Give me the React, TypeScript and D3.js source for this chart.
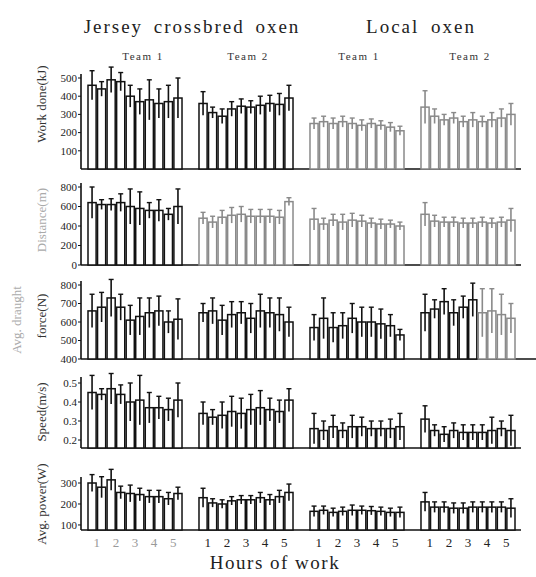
import React, { useEffect, useRef } from 'react'
import * as d3 from 'd3'

// titles and categories
const breeds = ['Jersey crossbred oxen', 'Local oxen']
const teams = ['Team 1', 'Team 2', 'Team 1', 'Team 2']
const hours = ['1', '2', '3', '4', '5']

// each row: 4 panels (Jersey T1, Jersey T2, Local T1, Local T2), 10 bars each
const workDone = [
  [460, 440, 490, 480, 400, 370, 380, 360, 370, 390],
  [360, 310, 290, 330, 345, 340, 350, 360, 355, 390],
  [250, 260, 250, 260, 250, 240, 250, 240, 230, 210],
  [340, 290, 270, 280, 260, 270, 260, 270, 280, 300],
]
const workDoneErr = [
  [80, 40, 70, 50, 60, 70, 110, 80, 90, 110],
  [65, 30, 40, 40, 40, 35, 50, 45, 60, 70],
  [30, 30, 30, 30, 30, 30, 25, 25, 25, 25],
  [90, 40, 30, 30, 30, 40, 30, 40, 50, 60],
]
const distance = [
  [640, 620, 620, 640, 600, 580, 560, 560, 520, 600],
  [480, 440, 490, 510, 520, 500, 500, 500, 490, 650],
  [470, 420, 460, 440, 460, 450, 430, 420, 420, 400],
  [520, 450, 440, 440, 430, 430, 440, 430, 440, 460],
]
const distanceErr = [
  [160, 50, 60, 90, 180, 170, 80, 110, 60, 180],
  [60, 60, 70, 80, 80, 70, 70, 70, 70, 40],
  [110, 60, 60, 80, 70, 60, 50, 50, 40, 40],
  [120, 60, 50, 50, 50, 50, 50, 50, 50, 120],
]
const force = [
  [660, 680, 730, 680, 610, 630, 650, 660, 600, 615],
  [650, 660, 610, 640, 650, 620, 660, 650, 640, 600],
  [570, 620, 570, 580, 620, 600, 600, 590, 580, 530],
  [650, 670, 710, 650, 680, 720, 650, 660, 640, 620],
]
const forceErr = [
  [90, 80, 100, 70, 80, 100, 80, 80, 60, 110],
  [50, 70, 80, 70, 60, 80, 90, 80, 90, 80],
  [70, 110, 80, 70, 80, 80, 80, 80, 60, 30],
  [100, 50, 70, 70, 60, 90, 130, 120, 110, 80],
]
const speed = [
  [0.45, 0.44, 0.47, 0.44, 0.40, 0.41, 0.37, 0.37, 0.36, 0.41],
  [0.34, 0.32, 0.33, 0.35, 0.34, 0.36, 0.37, 0.36, 0.35, 0.41],
  [0.26, 0.25, 0.27, 0.25, 0.27, 0.27, 0.26, 0.26, 0.26, 0.27],
  [0.31, 0.25, 0.23, 0.25, 0.24, 0.24, 0.24, 0.25, 0.26, 0.25],
]
const speedErr = [
  [0.09, 0.03, 0.08, 0.05, 0.10, 0.13, 0.08, 0.06, 0.06, 0.09],
  [0.06, 0.04, 0.07, 0.08, 0.08, 0.08, 0.09, 0.06, 0.06, 0.06],
  [0.08, 0.05, 0.06, 0.04, 0.06, 0.05, 0.04, 0.04, 0.05, 0.07],
  [0.07, 0.03, 0.04, 0.04, 0.04, 0.04, 0.04, 0.07, 0.04, 0.08],
]
const power = [
  [300, 280, 315, 255, 250, 245, 235, 235, 225, 250],
  [230, 205, 200, 215, 220, 220, 230, 220, 235, 255],
  [165, 170, 160, 165, 170, 170, 168, 165, 160, 160],
  [210, 185, 185, 180, 180, 185, 185, 185, 185, 180],
]
const powerErr = [
  [40, 50, 50, 30, 40, 30, 30, 30, 30, 30],
  [45, 20, 20, 20, 20, 20, 25, 25, 30, 40],
  [25, 20, 20, 20, 25, 20, 20, 20, 20, 25],
  [45, 25, 25, 25, 25, 25, 25, 25, 25, 45],
]

const rows = [
  { label: 'Work done(kJ)', mean: workDone, err: workDoneErr, domain: [0, 500], ticks: [100, 200, 300, 400, 500], fmt: d3.format('d'), y0: 169, y1: 78, top: 74, labelY: 104, faded: [2, 3] },
  { label: 'Distance(m)', mean: distance, err: distanceErr, domain: [0, 800], ticks: [0, 200, 400, 600, 800], fmt: d3.format('d'), y0: 265, y1: 187, top: 183, labelY: 220, faded: [1, 2, 3] },
  { label: 'force(N)', mean: force, err: forceErr, domain: [400, 800], ticks: [400, 500, 600, 700, 800], fmt: d3.format('d'), y0: 359, y1: 285, top: 281, labelY: 316, faded: [] },
  { label: 'Speed(m/s)', mean: speed, err: speedErr, domain: [0.158, 0.5], ticks: [0.2, 0.3, 0.4, 0.5], fmt: d3.format('.1f'), y0: 448, y1: 383, top: 377, labelY: 412, faded: [] },
  { label: 'Avg. power(W)', mean: power, err: powerErr, domain: [76, 300], ticks: [100, 200, 300], fmt: d3.format('d'), y0: 530, y1: 483, top: 477, labelY: 504, faded: [] },
]

export default function App() {
  const ref = useRef(null)

  useEffect(() => {
    const svg = d3.select(ref.current)
    svg.selectAll('*').remove()
    const font = '"Liberation Serif", "Times New Roman", serif'

    const axisX = 81
    const panelX = d3.scaleBand().domain(d3.range(4)).range([88, 515]).paddingInner(0.153)

    // breed titles
    svg.append('text').attr('x', 192).attr('y', 33).attr('text-anchor', 'middle')
      .style('font', `19px ${font}`).attr('letter-spacing', 2).attr('word-spacing', 4).attr('fill', '#222').text(breeds[0])
    svg.append('text').attr('x', 421).attr('y', 33).attr('text-anchor', 'middle')
      .style('font', `19px ${font}`).attr('letter-spacing', 2).attr('word-spacing', 5).attr('fill', '#222').text(breeds[1])

    teams.forEach((t, i) => {
      svg.append('text').attr('x', panelX(i) + panelX.bandwidth() / 2 + (i === 0 ? 8 : 2)).attr('y', 60)
        .attr('text-anchor', 'middle').style('font', `11px ${font}`).attr('letter-spacing', 1.5)
        .attr('fill', '#333').text(t)
    })

    rows.forEach((row, r) => {
      const y = d3.scaleLinear().domain(row.domain).range([row.y0, row.y1])
      const g = svg.append('g')

      // y axis
      g.append('line').attr('x1', axisX).attr('x2', axisX).attr('y1', row.top).attr('y2', row.y0)
        .attr('stroke', '#111').attr('stroke-width', 1.6)
      row.ticks.forEach(t => {
        g.append('line').attr('x1', axisX - 3).attr('x2', axisX).attr('y1', y(t)).attr('y2', y(t))
          .attr('stroke', '#111').attr('stroke-width', 1)
        g.append('text').attr('x', axisX - 4).attr('y', y(t)).attr('dy', '0.35em')
          .attr('text-anchor', 'end').style('font', `11px ${font}`).attr('fill', '#222')
          .text(row.fmt(t))
      })
      // baseline
      g.append('line').attr('x1', axisX).attr('x2', r === 2 ? 536 : 521).attr('y1', row.y0).attr('y2', row.y0)
        .attr('stroke', '#111').attr('stroke-width', 1.6)

      // y label
      g.append('text').attr('transform', `translate(46,${row.labelY}) rotate(-90)`)
        .attr('text-anchor', 'middle').style('font', `13px ${font}`)
        .attr('fill', r === 1 ? '#aaa' : '#333').text(row.label)

      row.mean.forEach((vals, p) => {
        const x = d3.scaleBand().domain(d3.range(10)).range([panelX(p), panelX(p) + panelX.bandwidth()]).paddingInner(0.15)
        const faded = row.faded.includes(p)
        vals.forEach((v, i) => {
          const col = faded || (r === 2 && p === 3 && i >= 6) ? '#8a8a8a' : '#111'
          const e = row.err[p][i]
          const bx = x(i)
          const cx = bx + x.bandwidth() / 2
          g.append('rect').attr('x', bx).attr('y', y(v)).attr('width', x.bandwidth()).attr('height', row.y0 - y(v))
            .attr('fill', 'white').attr('stroke', col).attr('stroke-width', 1.5)
          g.append('line').attr('x1', cx).attr('x2', cx).attr('y1', y(Math.max(v - e, row.domain[0]))).attr('y2', y(v + e))
            .attr('stroke', col).attr('stroke-width', 1.6)
          g.append('line').attr('x1', cx - 2.5).attr('x2', cx + 2.5).attr('y1', y(v + e)).attr('y2', y(v + e))
            .attr('stroke', col).attr('stroke-width', 1.4)
        })
        if (r === rows.length - 1) {
          hours.forEach((h, k) => {
            const hx = (x(2 * k) + x(2 * k + 1) + x.bandwidth()) / 2
            svg.append('text').attr('x', hx).attr('y', 547).attr('text-anchor', 'middle')
              .style('font', `13px ${font}`).attr('fill', p === 0 ? '#999' : '#222').text(h)
          })
        }
      })
    })

    // extra faded line of the two-line y label
    svg.append('text').attr('transform', 'translate(21,320) rotate(-90)').attr('text-anchor', 'middle')
      .style('font', `13px ${font}`).attr('fill', '#aaa').text('Avg. draught')

    svg.append('text').attr('x', 275).attr('y', 569).attr('text-anchor', 'middle')
      .style('font', `19px ${font}`).attr('letter-spacing', 1.5).attr('fill', '#222').text('Hours of work')
  }, [])

  return (
    <svg ref={ref} width={536} height={577}
      style={{ position: 'absolute', left: 0, top: 0, background: 'white' }} />
  )
}
